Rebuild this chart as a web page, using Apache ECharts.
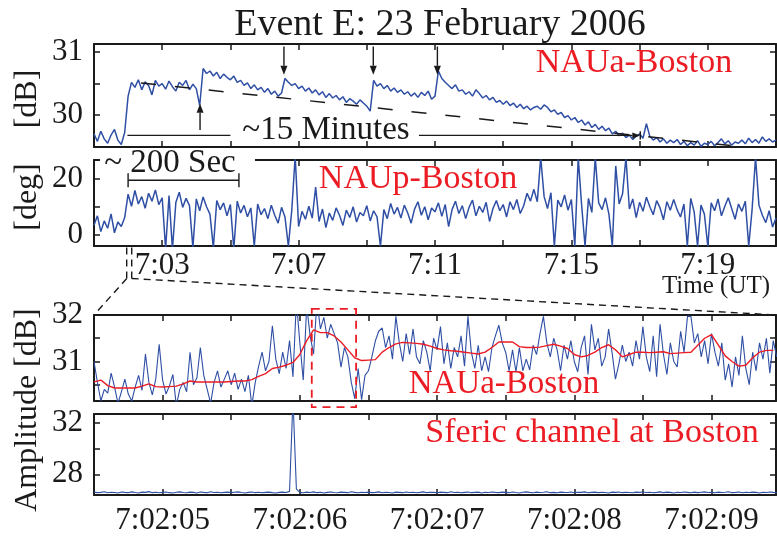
<!DOCTYPE html>
<html><head><meta charset="utf-8">
<script src="https://cdn.jsdelivr.net/npm/echarts@6/dist/echarts.min.js"></script>
<style>html,body{margin:0;padding:0;background:#fff}#c{width:777px;height:536px}</style>
</head><body><div id="c"></div>
<script>
// ---------- DATA ----------
// Panels 1-2: minutes after 7:00 UT, sampled every 0.1 min from 7:01
const longStart = 1.0, longStep = 0.1;
const nauaAmp = [
29.70,29.58,29.74,29.62,29.55,29.68,29.77,29.60,29.53,29.72,
30.30,30.52,30.44,30.56,30.40,30.53,30.47,30.32,30.55,30.46,
30.50,30.41,30.54,30.45,30.38,30.52,30.47,30.55,30.40,30.49,
30.42,30.15,30.74,30.66,30.70,30.62,30.68,30.58,30.65,30.60,
30.56,30.62,30.52,30.55,30.47,30.51,30.42,30.48,30.40,30.44,
30.36,30.42,30.33,30.38,30.30,30.35,30.58,30.52,30.47,30.50,
30.42,30.46,30.38,30.43,30.35,30.40,30.32,30.37,30.28,30.34,
30.27,30.31,30.24,30.29,30.20,30.26,30.22,30.17,30.24,30.19,
30.14,30.06,30.55,30.46,30.50,30.42,30.47,30.38,30.43,30.36,
30.40,30.33,30.37,30.30,30.35,30.28,30.36,30.31,30.38,30.25,
30.30,30.70,30.58,30.52,30.47,30.42,30.48,30.38,30.40,30.33,
30.37,30.30,30.40,30.34,30.27,30.31,30.24,30.28,30.20,30.23,
30.17,30.22,30.15,30.19,30.12,30.17,30.10,30.14,30.08,30.12,
30.14,30.09,30.16,30.12,30.05,30.08,30.01,30.04,29.96,29.99,
29.92,29.96,29.88,29.92,29.84,29.89,29.80,29.85,29.77,29.82,
29.75,29.79,29.70,29.74,29.67,29.71,29.64,29.68,29.61,29.66,
29.70,29.63,29.86,29.66,29.60,29.64,29.57,29.62,29.55,29.60,
29.56,29.61,29.53,29.58,29.51,29.56,29.52,29.59,29.50,29.55,
29.53,29.58,29.51,29.56,29.62,29.54,29.59,29.52,29.57,29.55,
29.60,29.54,29.63,29.56,29.61,29.55,29.65,29.58,29.62,29.57,29.60];
const naupPhase = [
3.5,6.8,1.2,5.0,2.4,7.5,0.8,4.6,3.0,6.2,
14.5,10.2,15.8,11.0,13.6,9.5,14.8,12.0,16.0,10.8,
13.2,-5.0,14.0,-5.0,11.5,15.2,9.8,13.0,10.4,-4.5,
12.8,8.6,13.5,10.0,7.4,-4.5,12.2,9.0,11.4,6.8,
10.8,-5.0,12.0,7.8,10.5,6.5,9.6,-4.0,11.0,7.2,
9.4,5.8,10.6,7.0,4.2,9.8,6.4,-4.0,8.8,28.0,
3.0,8.4,5.6,10.2,6.0,17.0,4.8,9.2,2.6,7.8,
5.2,9.6,7.0,3.4,8.8,6.2,10.0,4.6,8.0,6.8,
10.4,5.0,8.6,6.4,-4.0,9.0,5.8,11.2,7.4,9.8,
6.0,10.6,7.8,4.2,9.2,11.8,7.0,10.0,5.4,9.6,
8.2,11.4,6.6,10.8,3.0,9.0,12.0,7.6,10.4,5.8,
9.8,12.4,6.8,10.2,8.0,11.6,4.8,9.4,12.2,8.6,
10.8,6.4,11.8,9.0,12.6,7.6,10.4,14.8,12.0,16.2,
11.8,27.5,13.6,9.4,15.0,-4.0,12.4,10.0,14.2,8.8,
12.6,-4.0,27.5,10.6,-4.0,13.0,8.0,27.5,11.4,9.0,
13.2,7.4,-4.0,24.5,11.0,14.6,27.5,9.2,12.8,6.2,
11.6,8.4,13.4,10.0,7.2,12.2,9.6,5.4,11.8,8.8,
12.6,9.0,6.4,11.0,-4.0,13.0,8.2,-4.0,10.6,7.4,
-4.0,11.4,8.6,12.8,6.8,10.2,13.2,9.4,5.6,11.0,
8.4,12.0,-4.0,9.2,27.5,10.6,7.0,4.4,8.6,2.8,6.0];

// Panels 3-4: seconds after 7:02:00 UT
const shortStart = 4.5, rawStep = 0.025, smoothStep = 0.05;
const zoomAmpRaw = [
31.00,30.55,30.15,30.40,30.32,30.75,30.45,30.10,30.35,30.62,30.30,30.15,30.45,30.70,30.38,31.16,30.55,30.28,30.62,31.37,
30.60,30.30,30.48,30.72,30.05,30.40,30.55,30.35,31.20,30.50,30.65,31.30,30.70,30.40,30.10,30.55,30.80,30.45,30.62,30.80,
30.50,30.75,30.40,30.62,30.35,30.70,30.05,30.55,30.90,31.20,30.80,31.00,31.77,31.05,30.74,31.20,30.85,31.45,30.67,32.30,
31.40,30.60,32.20,31.55,31.16,32.30,31.70,31.95,31.50,31.80,31.60,31.40,30.88,31.30,31.10,30.55,30.20,30.85,30.18,30.70,
30.80,31.10,31.44,31.65,31.72,31.30,31.55,31.05,31.97,31.40,31.00,31.60,31.15,31.70,31.10,30.95,31.45,31.20,30.80,31.50,
31.25,31.75,30.95,31.40,30.85,31.30,31.10,31.55,30.90,31.97,31.20,30.85,31.35,30.80,31.10,30.78,31.30,31.55,31.78,31.40,
31.20,30.80,31.25,30.78,31.30,30.80,31.05,30.82,31.35,31.15,31.60,31.97,31.40,31.10,31.50,31.25,30.80,31.35,31.05,31.45,
31.00,30.78,31.30,31.55,30.72,31.80,31.25,31.50,30.90,31.10,31.70,31.20,30.62,30.95,31.35,31.00,31.20,30.90,31.45,31.05,
31.75,31.10,30.78,31.55,30.67,31.80,31.15,30.72,31.40,31.00,30.88,31.65,31.20,31.97,31.97,31.40,31.60,31.10,31.45,30.95,
31.60,31.20,30.90,31.40,30.60,30.95,30.45,31.10,30.70,31.55,30.85,30.50,31.20,30.80,31.40,31.05,31.50,30.75,31.45,31.10];
const zoomAmpSmooth = [
30.56,30.60,30.48,30.43,30.43,30.43,30.43,30.47,30.52,30.46,
30.45,30.46,30.47,30.52,30.58,30.56,30.56,30.56,30.56,30.56,
30.57,30.58,30.58,30.61,30.68,30.74,30.85,30.88,30.92,30.98,
31.15,31.45,31.68,31.62,31.62,31.55,31.42,31.25,31.08,31.02,
31.03,31.04,31.20,31.30,31.38,31.41,31.40,31.39,31.37,31.33,
31.28,31.25,31.23,31.22,31.20,31.18,31.16,31.20,31.30,31.42,
31.42,31.42,31.32,31.30,31.30,31.31,31.34,31.37,31.33,31.28,
31.15,31.10,31.13,31.20,31.30,31.36,31.25,31.10,31.15,31.20,
31.20,31.19,31.20,31.21,31.17,31.18,31.19,31.20,31.35,31.50,
31.58,31.35,31.12,31.00,30.90,30.92,31.08,31.20,31.24,31.24];
const sfericAmp = [
26.62,26.58,26.60,26.65,26.57,26.61,26.59,26.55,26.63,26.60,26.58,26.64,26.59,26.56,26.62,26.60,26.66,26.58,26.61,26.57,
26.60,26.63,26.58,26.55,26.61,26.64,26.59,26.57,26.62,26.60,26.56,26.63,26.60,26.58,26.65,26.59,26.61,26.57,26.60,26.62,
26.58,26.61,26.64,26.59,26.56,26.60,26.63,26.58,26.61,26.57,26.60,26.62,26.58,26.55,26.60,26.62,26.59,26.68,33.80,26.85,
26.60,26.57,26.62,26.59,26.64,26.58,26.61,26.56,26.60,26.63,26.59,26.57,26.62,26.60,26.58,26.65,26.60,26.57,26.61,26.59,
26.62,26.58,26.60,26.64,26.57,26.61,26.59,26.56,26.62,26.60,26.58,26.63,26.59,26.61,26.57,26.60,26.64,26.58,26.61,26.60,
26.57,26.62,26.60,26.58,26.65,26.59,26.61,26.57,26.60,26.63,26.58,26.60,26.62,26.56,26.61,26.59,26.63,26.60,26.58,26.62,
26.60,26.58,26.63,26.59,26.56,26.61,26.64,26.60,26.57,26.62,26.59,26.61,26.65,26.58,26.60,26.57,26.62,26.60,26.59,26.63,
26.58,26.61,26.60,26.64,26.57,26.60,26.62,26.58,26.61,26.59,26.56,26.62,26.60,26.63,26.58,26.61,26.59,26.57,26.62,26.60,
26.63,26.59,26.61,26.57,26.60,26.64,26.58,26.62,26.60,26.56,26.61,26.59,26.63,26.60,26.57,26.62,26.58,26.61,26.64,26.59,
26.60,26.57,26.62,26.59,26.61,26.65,26.58,26.60,26.63,26.57,26.61,26.59,26.62,26.60,26.56,26.61,26.59,26.63,26.60,26.58];

// ticks / labels
const minuteTicks = [3,5,7,9,11,13,15,17,19];
const minuteLabels = [3,7,11,15,19];
const secondTicks = [5,5.5,6,6.5,7,7.5,8,8.5,9];
const secondLabels = [5,6,7,8,9];

// ---------- CHART ----------
const FONT = '"Liberation Serif","Times New Roman",serif';
const BLUE = '#2f4fa5', RED = '#ec1c24', INK = '#1a1a1a';
const grids = [
  {left:94, top:44, width:682, height:103},
  {left:94, top:160, width:682, height:86},
  {left:94, top:315, width:682, height:86},
  {left:94, top:414, width:682, height:89}];
const xRanges = [[1,21],[1,21],[4.5,9.47],[4.5,9.47]];
const yRanges = [[29.49,31.13],[-3.9,26.6],[30.15,32],[26.4,32.65]];
const xTickVals = [minuteTicks, minuteTicks, secondTicks, secondTicks];
const xLabelVals = [null, minuteLabels, null, secondLabels];
const yTickVals = [[30,30.5,31],[0,10,20],[30.5,31,31.5,32],[28,30,32]];
const yLabelVals = [[30,31],[0,20],[31,32],[28,32]];
const pad = n => (n < 10 ? '0' : '') + n;
const fmtMin = v => '7:' + pad(Math.round(v));
const fmtSec = v => '7:02:' + pad(Math.round(v));

const xAxes = [], yAxes = [];
for (let g = 0; g < 4; g++) {
  ['bottom','top'].forEach((pos, k) => {
    const lbl = k === 0 && xLabelVals[g];
    xAxes.push({type:'value', gridIndex:g, position:pos, min:xRanges[g][0], max:xRanges[g][1],
      axisLine:{show:true, onZero:false, lineStyle:{color:INK, width:2}},
      axisTick:{show:true, inside:true, length:6, customValues:xTickVals[g], lineStyle:{color:INK, width:1.5}},
      axisLabel:{show:!!lbl, customValues: lbl || undefined, margin: g === 1 ? 4 : 10,
        fontFamily:FONT, fontSize:31, color:INK, formatter: g < 2 ? fmtMin : fmtSec},
      splitLine:{show:false}});
  });
  ['left','right'].forEach((pos, k) => {
    yAxes.push({type:'value', gridIndex:g, position:pos, min:yRanges[g][0], max:yRanges[g][1],
      axisLine:{show:true, onZero:false, lineStyle:{color:INK, width:2}},
      axisTick:{show:true, inside:true, length:6, customValues:yTickVals[g], lineStyle:{color:INK, width:1.5}},
      axisLabel:{show:k === 0, customValues:yLabelVals[g], margin:11, fontFamily:FONT, fontSize:31, color:INK},
      splitLine:{show:false}});
  });
}

function lineSeries(g, start, step, values, color, width) {
  return {type:'line', xAxisIndex:2*g, yAxisIndex:2*g, showSymbol:false, symbol:'none',
    data: values.map((v, i) => [start + i*step, v]), clip:true, animation:false,
    lineStyle:{color:color, width:width}, silent:true};
}

const chart = echarts.init(document.getElementById('c'), null, {renderer:'canvas'});
chart.setOption({
  animation:false,
  backgroundColor:'#ffffff',
  grid: grids,
  xAxis: xAxes,
  yAxis: yAxes,
  series: [
    lineSeries(0, longStart, longStep, nauaAmp, BLUE, 1.5),
    lineSeries(1, longStart, longStep, naupPhase, BLUE, 1.5),
    lineSeries(2, shortStart, rawStep, zoomAmpRaw, BLUE, 1.1),
    lineSeries(2, shortStart, smoothStep, zoomAmpSmooth, RED, 1.4),
    lineSeries(3, shortStart, rawStep, sfericAmp, BLUE, 1.1)
  ]
});

// ---------- ANNOTATIONS ----------
const P = (g, x, y) => chart.convertToPixel({xAxisIndex:2*g, yAxisIndex:2*g}, [x, y]);
const G = [];
function seg(a, b, style) { G.push({type:'line', z:100, shape:{x1:a[0], y1:a[1], x2:b[0], y2:b[1]}, style:Object.assign({stroke:INK, lineWidth:1.4}, style || {})}); }
function arrow(a, b, head, hw) {
  head = head || 9; hw = hw || 3.5;
  const dx = b[0]-a[0], dy = b[1]-a[1], L = Math.hypot(dx, dy), ux = dx/L, uy = dy/L;
  const bx = b[0]-ux*head, by = b[1]-uy*head;
  seg(a, [bx, by]);
  G.push({type:'polygon', z:100, shape:{points:[[b[0],b[1]],[bx-uy*hw, by+ux*hw],[bx+uy*hw, by-ux*hw]]}, style:{fill:INK}});
}
function txt(s, x, y, size, color, extra) {
  G.push(Object.assign({type:'text', z:110, x:x, y:y, style:{text:s, fill:color || INK, font: size + 'px ' + FONT, align:'center', verticalAlign:'middle'}}, extra || {}));
}

// panel 1
[6.57, 9.19, 11.07].forEach(t => arrow(P(0, t, 31.09), P(0, t, 30.64)));
arrow(P(0, 4.11, 29.76), P(0, 4.11, 30.18));
seg(P(0, 2.38, 30.51), P(0, 19.91, 29.50), {lineDash:[15, 19], lineWidth:1.5});
seg(P(0, 1.98, 29.675), P(0, 5.0, 29.675));
arrow(P(0, 10.53, 29.675), P(0, 17.02, 29.675), 8, 3);
seg(P(0, 17.02, 29.61), P(0, 17.02, 29.74));
txt('~15 Minutes', 326, 130, 33);
txt('NAUa-Boston', 634, 63, 34, RED);

// panel 2
G.push({type:'rect', z:105, shape:{x:100, y:149, width:155, height:18}, style:{fill:'#fff'}});
txt('~ 200 Sec', 170, 163, 33);
seg(P(1, 2.0, 19.4), P(1, 5.25, 19.4));
seg(P(1, 2.0, 16.9), P(1, 2.0, 21.9));
seg(P(1, 5.25, 16.9), P(1, 5.25, 21.9));
txt('NAUp-Boston', 418, 179, 34, RED);
txt('Time (UT)', 716, 286, 25);

// zoom connectors
const bl = P(1, 1.959, -15.43), blt = P(1, 1.959, -4.43);
const br = P(1, 2.106, -15.43), brt = P(1, 2.106, -4.43);
const dashK = {lineDash:[7, 5], lineWidth:1.4};
seg(blt, bl, dashK); seg(brt, br, dashK);
seg(bl, P(2, 4.5, 32), dashK);
seg(br, P(2, 9.47, 32), dashK);

// panel 3
const r0 = P(2, 6.087, 32.13), r1 = P(2, 6.41, 30.02);
G.push({type:'rect', z:100, shape:{x:r0[0], y:r0[1], width:r1[0]-r0[0], height:r1[1]-r0[1]}, style:{fill:'none', stroke:RED, lineWidth:1.8, lineDash:[8, 6]}});
txt('NAUa-Boston', 504, 384, 33, RED);
// panel 4
txt('Sferic channel at Boston', 592, 433, 34, RED);

// title and y names
txt('Event E: 23 February 2006', 440, 25, 38);
txt('[dB]', 28, 99, 32, INK, {rotation:Math.PI/2});
txt('[deg]', 28, 197, 32, INK, {rotation:Math.PI/2});
txt('Amplitude [dB]', 28, 410, 32, INK, {rotation:Math.PI/2});

chart.setOption({graphic: G});
</script>
</body></html>
